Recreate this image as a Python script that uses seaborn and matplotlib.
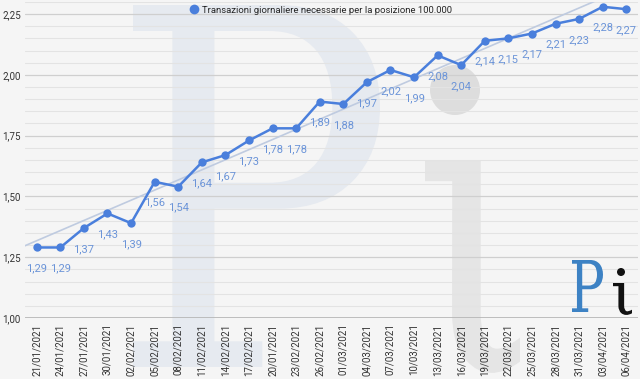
import numpy as np
import matplotlib
matplotlib.use("Agg")
import matplotlib.pyplot as plt
import matplotlib.ticker as mticker
from matplotlib.lines import Line2D
from matplotlib.patches import Ellipse, PathPatch
from matplotlib.textpath import TextPath
from matplotlib.font_manager import FontProperties
from matplotlib.transforms import Affine2D
import pandas as pd
import seaborn as sns

# dati
date = ["21/01/2021", "24/01/2021", "27/01/2021", "30/01/2021", "02/02/2021",
        "05/02/2021", "08/02/2021", "11/02/2021", "14/02/2021", "17/02/2021",
        "20/01/2021", "23/02/2021", "26/02/2021", "01/03/2021", "04/03/2021",
        "07/03/2021", "10/03/2021", "13/03/2021", "16/03/2021", "19/03/2021",
        "22/03/2021", "25/03/2021", "28/03/2021", "31/03/2021", "03/04/2021",
        "06/04/2021"]
transazioni = [1.29, 1.29, 1.37, 1.43, 1.39, 1.56, 1.54, 1.64, 1.67, 1.73,
               1.78, 1.78, 1.89, 1.88, 1.97, 2.02, 1.99, 2.08, 2.04, 2.14,
               2.15, 2.17, 2.21, 2.23, 2.28, 2.27]
serie = "Transazioni giornaliere necessarie per la posizione 100.000"

df = pd.DataFrame({"pos": np.arange(len(date)), "val": transazioni})

sns.set_theme(style="white")
plt.rcParams["font.family"] = ["Roboto", "DejaVu Sans"]

blu = "#4a7fdc"
blu_lab = "#6b94d8"
bg = "#f5f5f5"
W, H = 640, 379

fig = plt.figure(figsize=(6.4, 3.79), dpi=100, facecolor=bg)
ax = fig.add_axes([0.039, 0.161, 0.958, 0.834])
ax.set_facecolor("none")


def lettera(ch, x0, y0, x1, y1, colore, z=-1):
    # glifo scalato nel riquadro (pixel dall'alto a sinistra)
    tp = TextPath((0, 0), ch, size=100, prop=FontProperties(family="DejaVu Serif"))
    ext = tp.get_extents()
    t = (Affine2D().translate(-ext.x0, -ext.y0)
         .scale((x1 - x0) / W / ext.width, (y1 - y0) / H / ext.height)
         .translate(x0 / W, 1 - y1 / H))
    fig.patches.append(PathPatch(tp, transform=t + fig.transFigure,
                                 facecolor=colore, edgecolor="none", zorder=z))


def punto(cx, cy, r, colore, z=-1):
    fig.patches.append(Ellipse((cx / W, 1 - cy / H), 2 * r / W, 2 * r / H,
                               transform=fig.transFigure, facecolor=colore,
                               edgecolor="none", zorder=z))


# filigrana "Pi"
lettera("P", 133, 5, 380, 367, "#e6eaf0")
lettera("ι", 425, 160, 520, 373, "#e5e5e5")
punto(455, 90, 25, "#dddddd")

# logo
lettera("P", 572, 260, 603, 312, "#3d82c4", z=5)
lettera("ι", 613, 283, 632, 315, "#111111", z=5)
punto(621, 272, 4, "#111111", z=5)

# griglia
ax.set_ylim(1.0, 2.30)
ax.set_xlim(-0.5, len(date) - 0.5)
ax.yaxis.set_major_locator(mticker.MultipleLocator(0.25))
ax.yaxis.set_minor_locator(mticker.MultipleLocator(0.05))
ax.yaxis.set_major_formatter(mticker.FuncFormatter(lambda v, p: f"{v:.2f}".replace(".", ",")))
ax.grid(axis="y", which="major", color="#cfcfcf", linewidth=0.9)
ax.grid(axis="y", which="minor", color="#e3e3e3", linewidth=0.8)
ax.set_axisbelow(True)
for s in ax.spines.values():
    s.set_visible(False)
ax.axhline(1.0, color="#b5b5b5", linewidth=1.2, zorder=1)

# linea di tendenza
coef = np.polyfit(df["pos"], df["val"], 1)
xt = np.array([-0.5, len(date) - 0.5])
ax.plot(xt, np.polyval(coef, xt), color="#bfcbe0", linewidth=1.2, zorder=2)

sns.lineplot(data=df, x="pos", y="val", ax=ax, color=blu, linewidth=1.8,
             marker="o", markersize=6, markeredgewidth=0, zorder=3)

for x, v in zip(df["pos"], df["val"]):
    ax.annotate(f"{v:.2f}".replace(".", ","), (x, v), textcoords="offset points",
                xytext=(0, -15), ha="center", va="center", fontsize=8,
                color=blu_lab, zorder=4)

ax.set_xticks(df["pos"])
ax.set_xticklabels(date, rotation=90, fontsize=7, color="#333333")
ax.tick_params(axis="y", labelsize=7, labelcolor="#333333", length=0, pad=3)
ax.tick_params(axis="x", length=0, pad=4)
ax.set_xlabel("")
ax.set_ylabel("")

h = Line2D([], [], linestyle="none", marker="o", markersize=7, color=blu,
           markeredgewidth=0)
ax.legend([h], [serie], loc="center", bbox_to_anchor=(0.5, 0.973),
          bbox_transform=fig.transFigure, frameon=False, fontsize=6.8,
          handletextpad=0.2, borderpad=0, handlelength=1.2)

fig.savefig("out.png", dpi=100, facecolor=bg)
